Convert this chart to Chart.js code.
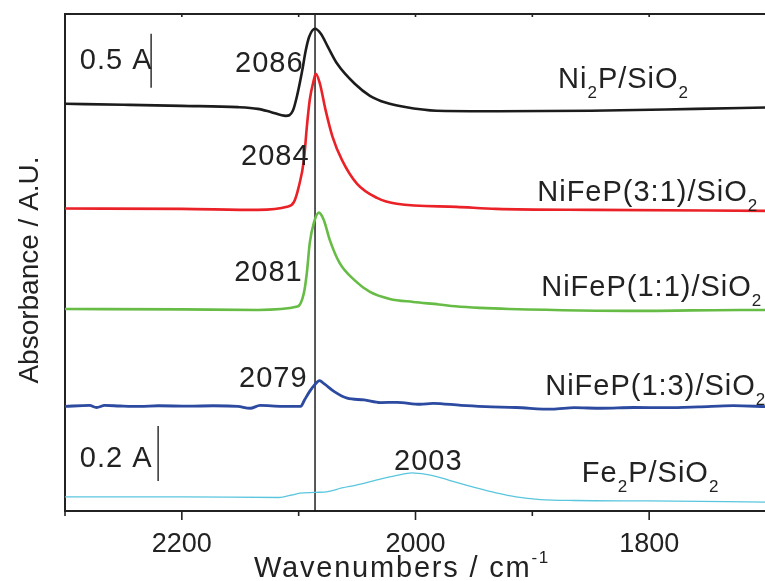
<!DOCTYPE html>
<html>
<head>
<meta charset="utf-8">
<script src="https://cdn.jsdelivr.net/npm/chart.js@4"></script>
<style>
  html, body { margin: 0; padding: 0; overflow: hidden; background: #fff; }
  canvas { display: block; }
</style>
</head>
<body>
<canvas id="ir" width="775" height="581"></canvas>
<script>
// wavenumbers (cm-1) and stacked absorbance (offset, A.U.)
const ni2pWn  = [2300, 2250, 2200, 2152, 2135, 2124, 2111, 2105, 2101, 2097, 2094, 2091, 2086, 2081, 2075, 2067, 2052, 2039, 2025, 2010, 1982, 1940, 1850, 1760, 1700];
const ni2pAbs = [3.769, 3.760, 3.750, 3.738, 3.722, 3.694, 3.657, 3.704, 3.861, 4.074, 4.259, 4.389, 4.463, 4.417, 4.296, 4.139, 3.954, 3.843, 3.778, 3.741, 3.704, 3.700, 3.704, 3.722, 3.735];

const nifep31Wn  = [2300, 2200, 2135, 2110, 2104, 2100, 2095.5, 2093, 2090.5, 2087, 2085.4, 2082, 2077, 2071, 2063, 2050, 2033, 2016, 1965, 1931, 1847, 1700];
const nifep31Abs = [2.800, 2.796, 2.787, 2.815, 2.861, 2.998, 3.250, 3.556, 3.806, 3.991, 4.046, 3.963, 3.713, 3.463, 3.250, 3.028, 2.898, 2.843, 2.815, 2.796, 2.787, 2.778];

const nifep11Wn  = [2300, 2200, 2135, 2101, 2095.5, 2093, 2090.5, 2087, 2082.7, 2078.5, 2073.4, 2065, 2052.5, 2039, 2022, 2002, 1980, 1966, 1945, 1920, 1806, 1722, 1700];
const nifep11Abs = [1.870, 1.866, 1.861, 1.892, 2.019, 2.204, 2.481, 2.667, 2.762, 2.694, 2.509, 2.296, 2.139, 2.028, 1.963, 1.935, 1.912, 1.895, 1.880, 1.870, 1.852, 1.861, 1.861];

const nifep13Wn  = [2300, 2279, 2273, 2266, 2253, 2236, 2220, 2194, 2173, 2152, 2141.5, 2133, 2114, 2098.3, 2095, 2090.7, 2086.4, 2082.2, 2078, 2069.5, 2058.5, 2044, 2030, 2016, 1996, 1985, 1961, 1940, 1914, 1883, 1864, 1841, 1813, 1785, 1758, 1728, 1700];
const nifep13Abs = [0.968, 0.977, 0.958, 0.977, 0.972, 0.968, 0.974, 0.970, 0.974, 0.968, 0.951, 0.977, 0.968, 0.968, 1.028, 1.105, 1.167, 1.206, 1.176, 1.105, 1.044, 1.028, 1.003, 1.006, 0.988, 0.997, 0.977, 0.966, 0.958, 0.942, 0.956, 0.951, 0.958, 0.956, 0.963, 0.975, 0.966];

const fe2pWn  = [2300, 2200, 2117, 2106, 2099, 2086, 2075, 2063, 2050, 2033, 2016, 2003, 1991, 1978, 1965, 1948, 1931, 1914, 1893, 1864, 1801, 1700];
const fe2pAbs = [0.130, 0.130, 0.125, 0.148, 0.165, 0.172, 0.179, 0.213, 0.241, 0.287, 0.329, 0.352, 0.338, 0.306, 0.264, 0.213, 0.167, 0.130, 0.106, 0.097, 0.093, 0.083];

const tickLabels = [2200, 2000, 1800];
const markerWn = 2086;

const FONT = '"Liberation Sans", Arial, Helvetica, sans-serif';
const INK = '#222';

function pts(wn, ab) { return wn.map((w, i) => ({ x: w, y: ab[i] })); }

function line(label, wn, ab, color, width) {
  return {
    label, data: pts(wn, ab), borderColor: color, borderWidth: width,
    pointRadius: 0, fill: false, cubicInterpolationMode: 'monotone'
  };
}

// text pieces: [text, ''|'sub'|'sup']
const notes = [
  { parts: [['2086', '']], w: 2095.8, y: 4.157, align: 'right' },
  { parts: [['2084', '']], w: 2090.7, y: 3.296, align: 'right' },
  { parts: [['2081', '']], w: 2096.6, y: 2.222, align: 'right' },
  { parts: [['2079', '']], w: 2092.4, y: 1.241, align: 'right' },
  { parts: [['2003', '']], w: 1989, y: 0.472, align: 'center' },
  { parts: [['0.5 A', '']], w: 2287.3, y: 4.185, align: 'left' },
  { parts: [['0.2 A', '']], w: 2287.3, y: 0.500, align: 'left' },
  { parts: [['Ni', ''], ['2', 'sub'], ['P/SiO', ''], ['2', 'sub']], w: 1878, y: 4.009, align: 'left' },
  { parts: [['NiFeP(3:1)/SiO', ''], ['2', 'sub']], w: 1895.8, y: 2.963, align: 'left' },
  { parts: [['NiFeP(1:1)/SiO', ''], ['2', 'sub']], w: 1892.4, y: 2.083, align: 'left' },
  { parts: [['NiFeP(1:3)/SiO', ''], ['2', 'sub']], w: 1889, y: 1.167, align: 'left' },
  { parts: [['Fe', ''], ['2', 'sub'], ['P/SiO', ''], ['2', 'sub']], w: 1857.6, y: 0.361, align: 'left' }
];
const scaleBars = [
  { w: 2226.3, from: 3.917, to: 4.417 },
  { w: 2220.3, from: 0.278, to: 0.787 }
];

function drawRich(ctx, parts, x, y, align, size, spacing) {
  const small = Math.round(size * 0.6);
  const fontOf = k => (k ? small : size) + 'px ' + FONT;
  ctx.letterSpacing = spacing + 'px';
  let total = 0;
  parts.forEach(p => { ctx.font = fontOf(p[1]); total += ctx.measureText(p[0]).width; });
  let cx = align === 'right' ? x - total : align === 'center' ? x - total / 2 : x;
  ctx.textAlign = 'left';
  ctx.textBaseline = 'alphabetic';
  parts.forEach(p => {
    ctx.font = fontOf(p[1]);
    const dy = p[1] === 'sub' ? size * 0.34 : p[1] === 'sup' ? -size * 0.5 : 0;
    ctx.fillText(p[0], cx, y + dy);
    cx += ctx.measureText(p[0]).width;
  });
  ctx.letterSpacing = '0px';
}

const decor = {
  id: 'decor',
  beforeDatasetsDraw(chart) {
    const { ctx, chartArea: a, scales: { x } } = chart;
    ctx.save();
    ctx.strokeStyle = '#111';
    ctx.lineWidth = 1.4;
    const mx = x.getPixelForValue(markerWn);
    ctx.beginPath(); ctx.moveTo(mx, a.top); ctx.lineTo(mx, a.bottom); ctx.stroke();
    ctx.restore();
  },
  afterDraw(chart) {
    const { ctx, chartArea: a, scales: { x, y } } = chart;
    ctx.save();
    ctx.strokeStyle = INK;
    ctx.lineWidth = 2;
    // top frame line
    ctx.beginPath(); ctx.moveTo(a.left - 1, a.top); ctx.lineTo(a.right, a.top); ctx.stroke();
    // tick marks
    ctx.lineWidth = 1.6;
    for (let v = 1700; v <= 2300; v += 100) {
      const px = x.getPixelForValue(v);
      const major = tickLabels.includes(v);
      ctx.beginPath(); ctx.moveTo(px, a.bottom); ctx.lineTo(px, a.bottom + (major ? 9 : 5)); ctx.stroke();
      ctx.beginPath(); ctx.moveTo(px, a.top); ctx.lineTo(px, a.top + 3); ctx.stroke();
    }
    // scale bars
    ctx.lineWidth = 1.3;
    ctx.strokeStyle = '#111';
    scaleBars.forEach(b => {
      const px = x.getPixelForValue(b.w);
      ctx.beginPath(); ctx.moveTo(px, y.getPixelForValue(b.from)); ctx.lineTo(px, y.getPixelForValue(b.to)); ctx.stroke();
    });
    // annotations
    ctx.fillStyle = INK;
    notes.forEach(n => {
      drawRich(ctx, n.parts, x.getPixelForValue(n.w), y.getPixelForValue(n.y) + 10, n.align, 29, 1);
    });
    // x title
    drawRich(ctx, [['Wavenumbers / cm', ''], ['-1', 'sup']], 402, 577, 'center', 29, 1.8);
    // y title
    ctx.translate(30, 270);
    ctx.rotate(-Math.PI / 2);
    ctx.font = '28px ' + FONT;
    ctx.textAlign = 'center';
    ctx.textBaseline = 'middle';
    ctx.fillText('Absorbance / A.U.', 0, 0);
    ctx.restore();
  }
};

new Chart(document.getElementById('ir'), {
  type: 'line',
  data: {
    datasets: [
      line('Ni2P/SiO2', ni2pWn, ni2pAbs, '#1c1c1c', 2.6),
      line('NiFeP(3:1)/SiO2', nifep31Wn, nifep31Abs, '#ea2127', 2.6),
      line('NiFeP(1:1)/SiO2', nifep11Wn, nifep11Abs, '#66bc45', 2.6),
      line('NiFeP(1:3)/SiO2', nifep13Wn, nifep13Abs, '#2b4aa0', 2.8),
      line('Fe2P/SiO2', fe2pWn, fe2pAbs, '#5ac6de', 1.3)
    ]
  },
  options: {
    responsive: false,
    animation: false,
    layout: { padding: { left: 0, top: 14, right: 2, bottom: 0 } },
    plugins: { legend: { display: false }, tooltip: { enabled: false } },
    scales: {
      x: {
        type: 'linear', reverse: true, min: 1700, max: 2300,
        grid: { display: false, tickLength: 8 },
        border: { display: true, color: INK, width: 2 },
        ticks: {
          stepSize: 100, padding: 9, color: INK, maxRotation: 0, autoSkip: false,
          font: { family: FONT, size: 27 },
          callback: v => tickLabels.includes(v) ? String(v) : ''
        },
        afterFit: s => { s.height = 70; }
      },
      y: {
        min: 0, max: 4.6,
        grid: { display: false },
        border: { display: true, color: INK, width: 2 },
        ticks: { display: false },
        afterFit: s => { s.width = 65; }
      }
    }
  },
  plugins: [decor]
});
</script>
</body>
</html>
